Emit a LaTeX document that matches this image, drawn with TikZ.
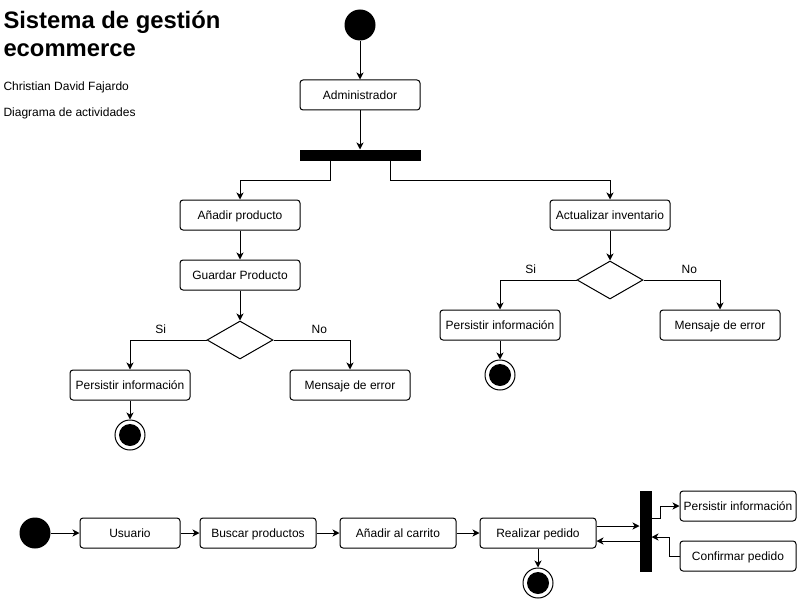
\documentclass[tikz,border=0pt]{standalone}
\usepackage{fontspec}
\setmainfont{Liberation Sans}
\usetikzlibrary{arrows.meta, shapes.geometric}

\begin{document}
\begin{tikzpicture}[x=1pt, y=-1pt, line width=1pt,
    act/.style={draw, rounded corners=3pt, minimum width=120pt, minimum height=30pt, inner sep=0pt, text height=8.6pt, text depth=0pt, font=\fontsize{12}{14}\selectfont},
    startnode/.style={circle, fill=black, minimum size=31pt, inner sep=0pt},
    endnode/.style={circle, draw, fill=white, minimum size=30pt, inner sep=0pt,
        path picture={\fill[black] (path picture bounding box.center) circle (11pt);}},
    bar/.style={fill=black, draw, inner sep=0pt},
    dec/.style={diamond, draw, minimum width=66pt, minimum height=38pt, inner sep=0pt},
    lbl/.style={font=\fontsize{12}{14}\selectfont, inner sep=0pt},
    arr/.style={-{Stealth[length=7pt, width=7pt, inset=2pt]}}]
    \useasboundingbox (0,0) rectangle (797,599);

    % Title
    \node[anchor=base west, inner sep=0pt, font=\bfseries\fontsize{23.8}{28}\selectfont] (title1) at (3,29) {Sistema de gestión};
    \node[anchor=base west, inner sep=0pt, font=\bfseries\fontsize{23.8}{28}\selectfont] (title2) at (3,57) {ecommerce};
    \node[anchor=base west, lbl] (author) at (3,91) {Christian David Fajardo};
    \node[anchor=base west, lbl] (kind) at (3,117) {Diagrama de actividades};

    % Administrator flow
    \node[startnode] (start1) at (360,25) {};
    \node[act] (admin) at (360,95) {Administrador};
    \node[bar, minimum width=120pt, minimum height=10pt] (fork1) at (360,155) {};
    \node[act] (addprod) at (240,215) {Añadir producto};
    \node[act] (saveprod) at (240,275) {Guardar Producto};
    \node[dec] (dec1) at (240,340) {};
    \node[act] (persist1) at (130,385) {Persistir información};
    \node[act] (err1) at (350,385) {Mensaje de error};
    \node[endnode] (end1) at (130,435) {};
    \node[act] (stock) at (610,215) {Actualizar inventario};
    \node[dec] (dec2) at (610,280) {};
    \node[act] (persist2) at (500,325) {Persistir información};
    \node[act] (err2) at (720,325) {Mensaje de error};
    \node[endnode] (end2) at (500,375) {};

    \draw[arr] (start1) -- (admin);
    \draw[arr] (admin) -- (fork1);
    \draw[arr] ([xshift=-30pt]fork1.south) -- ++(0,20) -| (addprod);
    \draw[arr] ([xshift=30pt]fork1.south) -- ++(0,20) -| (stock);
    \draw[arr] (addprod) -- (saveprod);
    \draw[arr] (saveprod) -- (dec1);
    \draw[arr] (dec1.west) -| (persist1) node[lbl, pos=0.3, above=6pt] {Si};
    \draw[arr] (dec1.east) -| (err1) node[lbl, pos=0.3, above=6pt] {No};
    \draw[arr] (persist1) -- (end1);
    \draw[arr] (stock) -- (dec2);
    \draw[arr] (dec2.west) -| (persist2) node[lbl, pos=0.3, above=6pt] {Si};
    \draw[arr] (dec2.east) -| (err2) node[lbl, pos=0.3, above=6pt] {No};
    \draw[arr] (persist2) -- (end2);

    % User flow
    \node[startnode] (start2) at (35,533) {};
    \node[act, minimum width=100pt] (user) at (130,533) {Usuario};
    \node[act, minimum width=116pt] (search) at (258,533) {Buscar productos};
    \node[act, minimum width=116pt] (cart) at (398,533) {Añadir al carrito};
    \node[act, minimum width=116pt] (order) at (538,533) {Realizar pedido};
    \node[endnode] (end3) at (538,583) {};
    \node[bar, minimum width=11pt, minimum height=80pt] (join) at (645.5,531) {};
    \node[act, minimum width=116pt] (persist3) at (738,506) {Persistir información};
    \node[act, minimum width=116pt] (confirm) at (738,556) {Confirmar pedido};

    \draw[arr] (start2) -- (user);
    \draw[arr] (user) -- (search);
    \draw[arr] (search) -- (cart);
    \draw[arr] (cart) -- (order);
    \draw[arr] (order) -- (end3);
    \draw[arr] ([yshift=7pt]order.east) -- ([yshift=7pt]order.east -| join.west);
    \draw[arr] ([yshift=-8pt]order.east -| join.west) -- ([yshift=-8pt]order.east);
    \draw[arr] ([yshift=13pt]join.east) -- ++(9,0) |- (persist3);
    \draw[arr] (confirm.west) -- ++(-10,0) |- ([yshift=-6pt]join.east);
\end{tikzpicture}
\end{document}
